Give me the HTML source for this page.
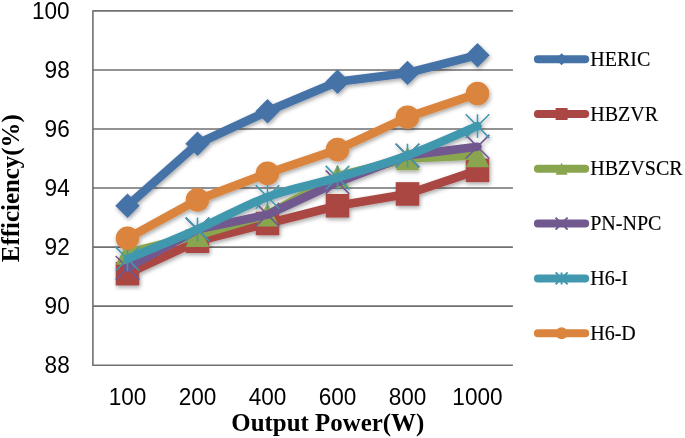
<!DOCTYPE html>
<html lang="en"><head><meta charset="utf-8"><title>Efficiency vs Output Power</title>
<style>
html,body{margin:0;padding:0;background:#fff}
body{width:685px;height:438px;overflow:hidden}
svg{display:block}
.tick{font-family:"Liberation Sans",sans-serif;font-size:22.6px;fill:#000}
.leg{font-family:"Liberation Serif",serif;font-size:20.05px;fill:#000;stroke:#000;stroke-width:0.15px}
.ax{font-family:"Liberation Serif",serif;font-weight:bold;font-size:24.9px;fill:#000}
</style></head><body>
<svg width="685" height="438" viewBox="0 0 685 438">
<defs><filter id="sh" x="-5%" y="-10%" width="110%" height="125%"><feGaussianBlur in="SourceAlpha" stdDeviation="2"/><feOffset dx="0.8" dy="2" result="b"/><feComponentTransfer><feFuncA type="linear" slope="0.36"/></feComponentTransfer><feMerge><feMergeNode/><feMergeNode in="SourceGraphic"/></feMerge></filter></defs>
<rect width="685" height="438" fill="#fff"/>
<path d="M92.9 10.9H512.9M92.9 69.95H512.9M92.9 129H512.9M92.9 188.05H512.9M92.9 247.1H512.9M92.9 306.15H512.9M92.9 365.2H512.9M92.9 10.2V365.9" stroke="#707070" stroke-width="1.6" fill="none"/>
<text class="tick" transform="translate(69.7 18.5) scale(1 1.03)" text-anchor="end">100</text>
<text class="tick" transform="translate(69.7 77.55) scale(1 1.03)" text-anchor="end">98</text>
<text class="tick" transform="translate(69.7 136.6) scale(1 1.03)" text-anchor="end">96</text>
<text class="tick" transform="translate(69.7 195.65) scale(1 1.03)" text-anchor="end">94</text>
<text class="tick" transform="translate(69.7 254.7) scale(1 1.03)" text-anchor="end">92</text>
<text class="tick" transform="translate(69.7 313.75) scale(1 1.03)" text-anchor="end">90</text>
<text class="tick" transform="translate(69.7 372.8) scale(1 1.03)" text-anchor="end">88</text>
<text class="tick" transform="translate(127.5 404.8) scale(1 1.03)" text-anchor="middle">100</text>
<text class="tick" transform="translate(197.5 404.8) scale(1 1.03)" text-anchor="middle">200</text>
<text class="tick" transform="translate(267.5 404.8) scale(1 1.03)" text-anchor="middle">400</text>
<text class="tick" transform="translate(337.5 404.8) scale(1 1.03)" text-anchor="middle">600</text>
<text class="tick" transform="translate(407.5 404.8) scale(1 1.03)" text-anchor="middle">800</text>
<text class="tick" transform="translate(477.5 404.8) scale(1 1.03)" text-anchor="middle">1000</text>
<text class="ax" x="327.8" y="430.5" text-anchor="middle">Output Power(W)</text>
<text class="ax" transform="translate(19 188.2) rotate(-90)" text-anchor="middle">Efficiency(%)</text>
<g filter="url(#sh)">
<path d="M127.5 205.76L197.5 143.76L267.5 111.29L337.5 81.76L407.5 72.9L477.5 55.19" stroke="#4572A7" stroke-width="8.6" stroke-linecap="round" stroke-linejoin="round" fill="none"/>
<path d="M127.5 193.56L139.7 205.76L127.5 217.96L115.3 205.76Z" fill="#4572A7"/>
<path d="M197.5 131.56L209.7 143.76L197.5 155.96L185.3 143.76Z" fill="#4572A7"/>
<path d="M267.5 99.09L279.7 111.29L267.5 123.49L255.3 111.29Z" fill="#4572A7"/>
<path d="M337.5 69.56L349.7 81.76L337.5 93.96L325.3 81.76Z" fill="#4572A7"/>
<path d="M407.5 60.7L419.7 72.9L407.5 85.1L395.3 72.9Z" fill="#4572A7"/>
<path d="M477.5 42.99L489.7 55.19L477.5 67.39L465.3 55.19Z" fill="#4572A7"/>
<path d="M127.5 273.67L197.5 241.19L267.5 223.48L337.5 205.76L407.5 193.96L477.5 170.34" stroke="#AA4643" stroke-width="8.6" stroke-linecap="round" stroke-linejoin="round" fill="none"/>
<rect x="115.7" y="261.87" width="23.6" height="23.6" fill="#AA4643"/>
<rect x="185.7" y="229.39" width="23.6" height="23.6" fill="#AA4643"/>
<rect x="255.7" y="211.68" width="23.6" height="23.6" fill="#AA4643"/>
<rect x="325.7" y="193.96" width="23.6" height="23.6" fill="#AA4643"/>
<rect x="395.7" y="182.16" width="23.6" height="23.6" fill="#AA4643"/>
<rect x="465.7" y="158.54" width="23.6" height="23.6" fill="#AA4643"/>
<path d="M127.5 253.01L197.5 235.29L267.5 214.62L337.5 176.24L407.5 158.53L477.5 155.57" stroke="#89A54E" stroke-width="8.6" stroke-linecap="round" stroke-linejoin="round" fill="none"/>
<path d="M127.5 241.21L139.3 264.81L115.7 264.81Z" fill="#89A54E"/>
<path d="M197.5 223.49L209.3 247.09L185.7 247.09Z" fill="#89A54E"/>
<path d="M267.5 202.82L279.3 226.42L255.7 226.42Z" fill="#89A54E"/>
<path d="M337.5 164.44L349.3 188.04L325.7 188.04Z" fill="#89A54E"/>
<path d="M407.5 146.72L419.3 170.33L395.7 170.33Z" fill="#89A54E"/>
<path d="M477.5 143.77L489.3 167.37L465.7 167.37Z" fill="#89A54E"/>
<path d="M127.5 267.77L197.5 229.39L267.5 214.62L337.5 182.14L407.5 155.57L477.5 146.71" stroke="#71588F" stroke-width="8.6" stroke-linecap="round" stroke-linejoin="round" fill="none"/>
<path d="M115.7 255.97L139.3 279.57M139.3 255.97L115.7 279.57" stroke="#71588F" stroke-width="1.6" fill="none"/>
<path d="M185.7 217.59L209.3 241.19M209.3 217.59L185.7 241.19" stroke="#71588F" stroke-width="1.6" fill="none"/>
<path d="M255.7 202.82L279.3 226.42M279.3 202.82L255.7 226.42" stroke="#71588F" stroke-width="1.6" fill="none"/>
<path d="M325.7 170.34L349.3 193.94M349.3 170.34L325.7 193.94" stroke="#71588F" stroke-width="1.6" fill="none"/>
<path d="M395.7 143.77L419.3 167.37M419.3 143.77L395.7 167.37" stroke="#71588F" stroke-width="1.6" fill="none"/>
<path d="M465.7 134.91L489.3 158.51M489.3 134.91L465.7 158.51" stroke="#71588F" stroke-width="1.6" fill="none"/>
<path d="M127.5 258.91C139.17 253.99 174.17 239.72 197.5 229.39C220.83 219.05 244.17 205.52 267.5 196.91C290.83 188.3 314.17 184.61 337.5 177.72C360.83 170.83 384.17 164.18 407.5 155.57C430.83 146.96 465.83 130.97 477.5 126.05" stroke="#4198AF" stroke-width="8.6" stroke-linecap="round" stroke-linejoin="round" fill="none"/>
<path d="M115.7 247.11L139.3 270.71M139.3 247.11L115.7 270.71M127.5 247.11L127.5 270.71" stroke="#4198AF" stroke-width="1.6" fill="none"/>
<path d="M185.7 217.59L209.3 241.19M209.3 217.59L185.7 241.19M197.5 217.59L197.5 241.19" stroke="#4198AF" stroke-width="1.6" fill="none"/>
<path d="M255.7 185.11L279.3 208.71M279.3 185.11L255.7 208.71M267.5 185.11L267.5 208.71" stroke="#4198AF" stroke-width="1.6" fill="none"/>
<path d="M325.7 165.92L349.3 189.52M349.3 165.92L325.7 189.52M337.5 165.92L337.5 189.52" stroke="#4198AF" stroke-width="1.6" fill="none"/>
<path d="M395.7 143.77L419.3 167.37M419.3 143.77L395.7 167.37M407.5 143.77L407.5 167.37" stroke="#4198AF" stroke-width="1.6" fill="none"/>
<path d="M465.7 114.25L489.3 137.85M489.3 114.25L465.7 137.85M477.5 114.25L477.5 137.85" stroke="#4198AF" stroke-width="1.6" fill="none"/>
<path d="M127.5 238.24L197.5 199.86L267.5 173.29L337.5 149.67L407.5 117.19L477.5 93.57" stroke="#DB843D" stroke-width="8.6" stroke-linecap="round" stroke-linejoin="round" fill="none"/>
<circle cx="127.5" cy="238.24" r="11.8" fill="#DB843D"/>
<circle cx="197.5" cy="199.86" r="11.8" fill="#DB843D"/>
<circle cx="267.5" cy="173.29" r="11.8" fill="#DB843D"/>
<circle cx="337.5" cy="149.67" r="11.8" fill="#DB843D"/>
<circle cx="407.5" cy="117.19" r="11.8" fill="#DB843D"/>
<circle cx="477.5" cy="93.57" r="11.8" fill="#DB843D"/>
</g>
<path d="M537.9 59.2H585.2" stroke="#4572A7" stroke-width="8" stroke-linecap="round"/>
<path d="M561.6 53.2L567.6 59.2L561.6 65.2L555.6 59.2Z" fill="#4572A7"/>
<text class="leg" transform="translate(590.2 65.7) scale(1 1.05)">HERIC</text>
<path d="M537.9 114H585.2" stroke="#AA4643" stroke-width="8" stroke-linecap="round"/>
<rect x="555.6" y="108" width="12" height="12" fill="#AA4643"/>
<text class="leg" transform="translate(590.2 120.5) scale(1 1.05)">HBZVR</text>
<path d="M537.9 168.8H585.2" stroke="#89A54E" stroke-width="8" stroke-linecap="round"/>
<path d="M561.6 162.8L567.6 174.8L555.6 174.8Z" fill="#89A54E"/>
<text class="leg" transform="translate(590.2 175.3) scale(1 1.05)">HBZVSCR</text>
<path d="M537.9 223.6H585.2" stroke="#71588F" stroke-width="8" stroke-linecap="round"/>
<path d="M555.6 217.6L567.6 229.6M567.6 217.6L555.6 229.6" stroke="#71588F" stroke-width="2" fill="none"/>
<text class="leg" transform="translate(590.2 230.1) scale(1 1.05)">PN-NPC</text>
<path d="M537.9 278.4H585.2" stroke="#4198AF" stroke-width="8" stroke-linecap="round"/>
<path d="M555.6 272.4L567.6 284.4M567.6 272.4L555.6 284.4M561.6 272.4L561.6 284.4" stroke="#4198AF" stroke-width="2" fill="none"/>
<text class="leg" transform="translate(590.2 284.9) scale(1 1.05)">H6-I</text>
<path d="M537.9 333.2H585.2" stroke="#DB843D" stroke-width="8" stroke-linecap="round"/>
<circle cx="561.6" cy="333.2" r="6" fill="#DB843D"/>
<text class="leg" transform="translate(590.2 339.7) scale(1 1.05)">H6-D</text>
</svg></body></html>
